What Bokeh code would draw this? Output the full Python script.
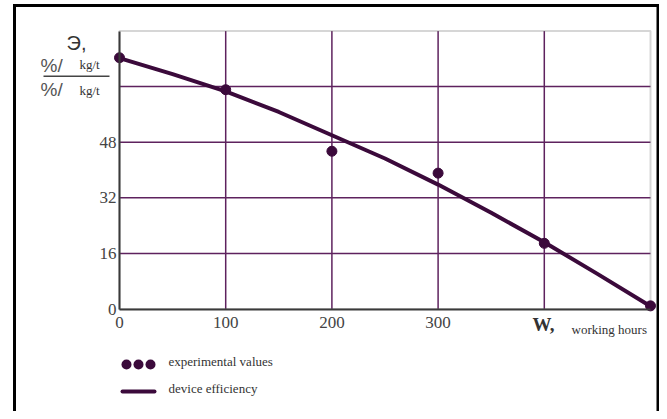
from bokeh.plotting import figure
from bokeh.models import (FixedTicker, Label, BoxAnnotation, Range1d, LinearAxis)
from bokeh.embed import file_html
from bokeh.resources import INLINE

# ---- data ----
curve_hours = [0, 50, 100, 150, 200, 250, 300, 350, 400, 450, 500]
curve_eff = [72.2, 67.6, 62.6, 56.7, 50.0, 43.3, 35.8, 27.7, 19.2, 10.1, 0.8]

exp_hours = [0, 100, 200, 300, 400, 500]
exp_eff = [72.3, 63.1, 45.4, 39.1, 18.9, 0.9]

x_tick_labels = [0, 100, 200, 300]
y_tick_labels = [0, 16, 32, 48]
x_grid = [100, 200, 300, 400]
y_grid = [16, 32, 48, 64]
x_lim = (0, 500)
y_lim = (0, 80)

W, H = 659, 411
PURPLE = "#3b0a3b"
GRID = "#5e225e"
FONT = "Liberation Serif"
SANS = "Liberation Sans"

# plot area in canvas pixels
PX0, PX1 = 119, 650
PY0, PY1 = 308.5, 30.5
sx = (PX1 - PX0) / (x_lim[1] - x_lim[0])
sy = (PY0 - PY1) / (y_lim[1] - y_lim[0])
x_range = Range1d(x_lim[0] - PX0 / sx, x_lim[1] + (W - PX1) / sx)
y_range = Range1d(y_lim[0] - (H - PY0) / sy, y_lim[1] + PY1 / sy)

p = figure(width=W, height=H, output_backend="svg", toolbar_location=None,
           x_range=x_range, y_range=y_range, x_axis_location=None,
           y_axis_location=None, min_border=0)
p.outline_line_color = None
p.xgrid.visible = False
p.ygrid.visible = False

# plot-area border (top / right grey)
p.add_layout(BoxAnnotation(left=x_lim[0], right=x_lim[1], bottom=y_lim[0], top=y_lim[1],
                           fill_alpha=0, line_color="#777777", line_width=2,
                           level="underlay"))

# grid lines
p.segment(x0=x_grid, y0=[y_lim[0]] * len(x_grid), x1=x_grid, y1=[y_lim[1]] * len(x_grid),
          line_color=GRID, line_width=1.5, level="underlay")
p.segment(x0=[x_lim[0]] * len(y_grid), y0=y_grid, x1=[x_lim[1]] * len(y_grid), y1=y_grid,
          line_color=GRID, line_width=1.5, level="underlay")

xax = LinearAxis(fixed_location=0, bounds=x_lim, ticker=FixedTicker(ticks=x_tick_labels))
yax = LinearAxis(fixed_location=0, bounds=y_lim, ticker=FixedTicker(ticks=y_tick_labels))
for ax in (xax, yax):
    ax.major_tick_out = 0
    ax.major_tick_in = 0
    ax.minor_tick_out = 0
    ax.minor_tick_in = 0
    ax.axis_line_color = "#3a3a3a"
    ax.axis_line_width = 2
    ax.major_label_text_font = FONT
    ax.major_label_text_font_size = "17px"
    ax.major_label_text_color = "#444444"
xax.major_label_standoff = 8
yax.major_label_standoff = 3
p.add_layout(xax, "below")
p.add_layout(yax, "left")

p.line(curve_hours, curve_eff, line_color=PURPLE, line_width=4)
p.scatter(exp_hours, exp_eff, size=10, fill_color=PURPLE, line_color=PURPLE)


def lab(px, py, text, size, color="#333333", align="left", base="middle",
        font=FONT, style="normal"):
    """Label at canvas pixel (px, py), origin top-left."""
    p.add_layout(Label(x=px, y=py, x_units="canvas", y_units="canvas",
                       text=text, text_font=font, text_font_size=f"{size}px",
                       text_color=color, text_align=align, text_baseline=base,
                       text_font_style=style))


def box(l, t, r, b, color, radius=0):
    p.add_layout(BoxAnnotation(left=l, right=r, top=t, bottom=b,
                               left_units="canvas", right_units="canvas",
                               top_units="canvas", bottom_units="canvas",
                               fill_color=color, fill_alpha=1.0,
                               line_color=None, line_width=0,
                               border_radius=int(radius), level="overlay"))


# y-axis title block
lab(66, 42, "Э,", 20, font=SANS)
lab(40, 65, "%/", 19, color="#555555", font=SANS)
lab(79, 64, "kg/t", 13)
box(43, 75, 109, 76.5, "#444444")
lab(40, 89, "%/", 19, color="#555555", font=SANS)
lab(79, 90, "kg/t", 13)

# x-axis title
lab(532, 324, "W,", 19, style="bold")
lab(571, 329, "working hours", 13)

# legend
for cx in (126, 138, 150):
    box(cx - 5, 359, cx + 5, 369, PURPLE, radius=5)
lab(168, 361, "experimental  values", 13)
box(120, 389, 156, 393, PURPLE, radius=2)
lab(168, 388, "device efficiency", 13)

# outer frame (left, top, right edges)
box(12.5, 3.5, 15.5, 420, "#000000")
box(12.5, 3.5, 659, 6.5, "#000000")
box(656, 3.5, 659, 420, "#000000")

open("out.html", "w").write(file_html(p, INLINE))
